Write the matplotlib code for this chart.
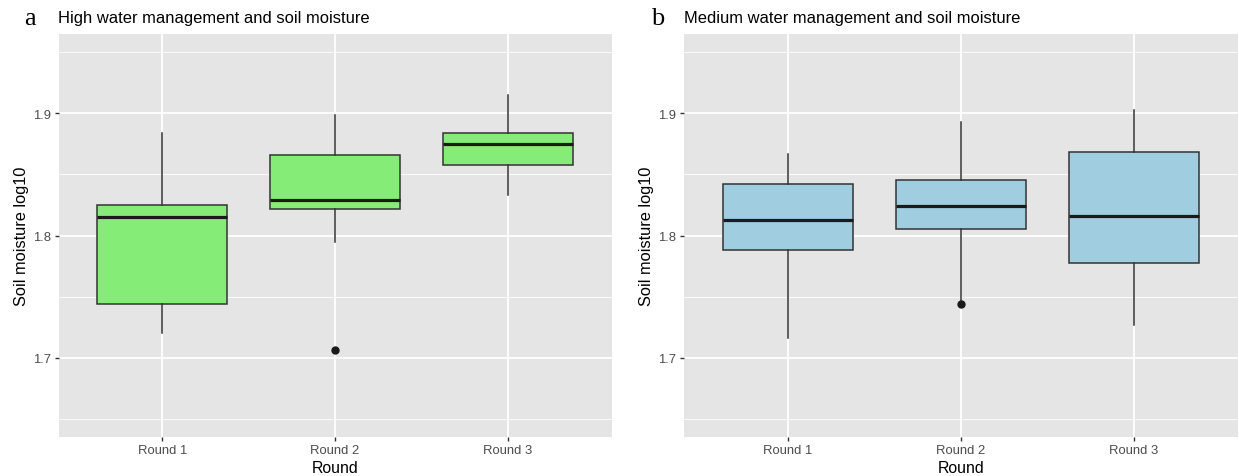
import matplotlib
matplotlib.use("Agg")
import matplotlib.pyplot as plt
from matplotlib.ticker import MultipleLocator

plt.rcParams['font.family'] = ['Liberation Sans', 'DejaVu Sans']

categories = ["Round 1", "Round 2", "Round 3"]

# panel a: high water management
high_whislo = [1.720, 1.795, 1.833]
high_q1 = [1.744, 1.822, 1.858]
high_med = [1.815, 1.829, 1.875]
high_q3 = [1.825, 1.866, 1.884]
high_whishi = [1.884, 1.899, 1.915]
high_fliers = [[], [1.706], []]

# panel b: medium water management
med_whislo = [1.716, 1.7455, 1.727]
med_q1 = [1.7885, 1.805, 1.7773]
med_med = [1.813, 1.8246, 1.8156]
med_q3 = [1.842, 1.8454, 1.8686]
med_whishi = [1.8667, 1.8926, 1.903]
med_fliers = [[], [1.7437], []]

y_ticks = [1.7, 1.8, 1.9]


def make_stats(lo, q1, med, q3, hi, fl):
    stats = []
    for i in range(len(categories)):
        stats.append({'whislo': lo[i], 'q1': q1[i], 'med': med[i], 'q3': q3[i],
                      'whishi': hi[i], 'fliers': fl[i], 'label': categories[i]})
    return stats


def draw_panel(ax, stats, fill, title, letter, letter_x):
    ax.set_facecolor('#E5E5E5')
    ax.bxp(stats, positions=[1, 2, 3], widths=0.75, patch_artist=True,
           showcaps=False, zorder=3,
           boxprops=dict(facecolor=fill, edgecolor='#333333', linewidth=1.1),
           medianprops=dict(color='#1A1A1A', linewidth=2.3),
           whiskerprops=dict(color='#333333', linewidth=1.1),
           flierprops=dict(marker='o', markerfacecolor='#1A1A1A',
                           markeredgecolor='#1A1A1A', markersize=5))
    ax.set_xlim(0.4, 3.6)
    ax.set_ylim(1.6355, 1.965)
    ax.set_yticks(y_ticks)
    ax.yaxis.set_minor_locator(MultipleLocator(0.05))
    ax.xaxis.set_minor_locator(plt.NullLocator())
    ax.set_xticks([1, 2, 3])
    ax.set_xticklabels(categories)
    ax.grid(True, which='major', color='white', linewidth=1.3, zorder=0)
    ax.grid(True, which='minor', axis='y', color='white', linewidth=0.6, zorder=0)
    ax.set_axisbelow(True)
    for s in ax.spines.values():
        s.set_visible(False)
    ax.tick_params(which='major', length=3, width=1, color='#333333',
                   labelcolor='#4D4D4D', labelsize=9.4, pad=2.5)
    ax.tick_params(which='minor', length=0)
    ax.set_xlabel("Round", fontsize=11.4, color='black', labelpad=3)
    ax.set_ylabel("Soil moisture log10", fontsize=11.8, color='black', labelpad=3)
    ax.set_title(title, loc='left', fontsize=11.9, pad=9)
    fig.text(letter_x / 1239, 1 - 25 / 477, letter, family='Liberation Serif',
             fontsize=19, va='baseline')


fig = plt.figure(figsize=(12.39, 4.77), dpi=100)
ax1 = fig.add_axes([58.5 / 1239, 39.5 / 477, 553 / 1239, 402.5 / 477])
ax2 = fig.add_axes([684 / 1239, 39.5 / 477, 553.5 / 1239, 402.5 / 477])

draw_panel(ax1, make_stats(high_whislo, high_q1, high_med, high_q3, high_whishi, high_fliers),
           '#86EC78', "High water management and soil moisture", 'a', 24)
draw_panel(ax2, make_stats(med_whislo, med_q1, med_med, med_q3, med_whishi, med_fliers),
           '#A0CEE0', "Medium water management and soil moisture", 'b', 651)

fig.savefig("out.png", dpi=100)
